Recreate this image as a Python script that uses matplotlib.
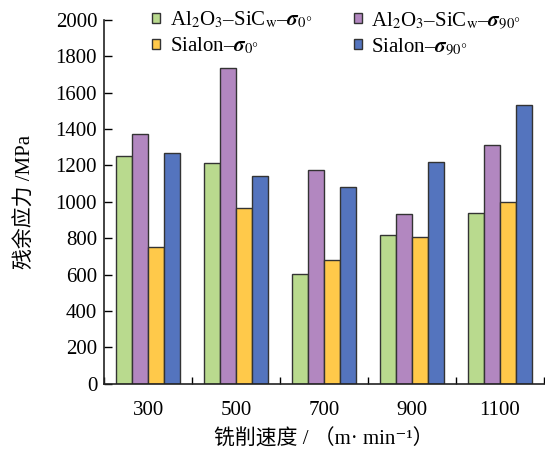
import numpy as np
import matplotlib.pyplot as plt

plt.rcParams['font.family'] = ['Liberation Serif', 'Noto Sans CJK SC', 'DejaVu Serif']
plt.rcParams['mathtext.fontset'] = 'stix'

# 数据
speeds = ['300', '500', '700', '900', '1100']
al_0 = [1250, 1215, 605, 815, 940]
al_90 = [1370, 1735, 1175, 935, 1310]
si_0 = [750, 965, 680, 805, 1000]
si_90 = [1270, 1140, 1080, 1220, 1530]

labels = [r'Al$_2$O$_3$–SiC$_{\rm w}$–$\boldsymbol{\sigma}_{0°}$',
          r'Al$_2$O$_3$–SiC$_{\rm w}$–$\boldsymbol{\sigma}_{90°}$',
          r'Sialon–$\boldsymbol{\sigma}_{0°}$',
          r'Sialon–$\boldsymbol{\sigma}_{90°}$']
colors = ['#B9DA8E', '#B287C0', '#FFC94A', '#5474BE']

fig = plt.figure(figsize=(5.45, 4.5), dpi=100)
ax = fig.add_axes([0.191, 0.147, 0.807, 0.809])

x = np.arange(len(speeds)) + 0.5
w = 0.18
series = [al_0, al_90, si_0, si_90]
bars = []
for i, s in enumerate(series):
    b = ax.bar(x + (i - 1.5) * w, s, w, color=colors[i], edgecolor='#333333', linewidth=1.0)
    bars.append(b)

ax.set_xlim(0, 5)
ax.set_ylim(0, 2000)
ax.set_yticks(np.arange(0, 2001, 200))
ax.set_xticks(x)
ax.set_xticklabels(speeds)
ax.set_xticks(np.arange(0, 6), minor=True)
ax.tick_params(axis='x', which='major', length=0, pad=12, labelsize=15)
ax.tick_params(axis='x', which='minor', direction='in', length=5, width=1)
ax.tick_params(axis='y', direction='in', length=6, width=1, labelsize=15, pad=5)
ax.spines['top'].set_visible(False)
ax.spines['right'].set_visible(False)
for sp in ['left', 'bottom']:
    ax.spines[sp].set_linewidth(1.2)
    ax.spines[sp].set_color('#222222')

ax.set_ylabel('残余应力 /MPa', fontsize=15, labelpad=14)
ax.set_xlabel('铣削速度 / （m· min⁻¹）', fontsize=15, labelpad=7)

# 图例，顺序按列排
order = [0, 2, 1, 3]
ax.legend([bars[i] for i in order], [labels[i] for i in order], ncol=2, frameon=False,
          loc='upper left', bbox_to_anchor=(0.09, 1.05), fontsize=15,
          handlelength=0.4, handleheight=0.4, handletextpad=0.45,
          columnspacing=2.0, labelspacing=0.25, borderaxespad=0)

fig.savefig('out.png', dpi=100)
